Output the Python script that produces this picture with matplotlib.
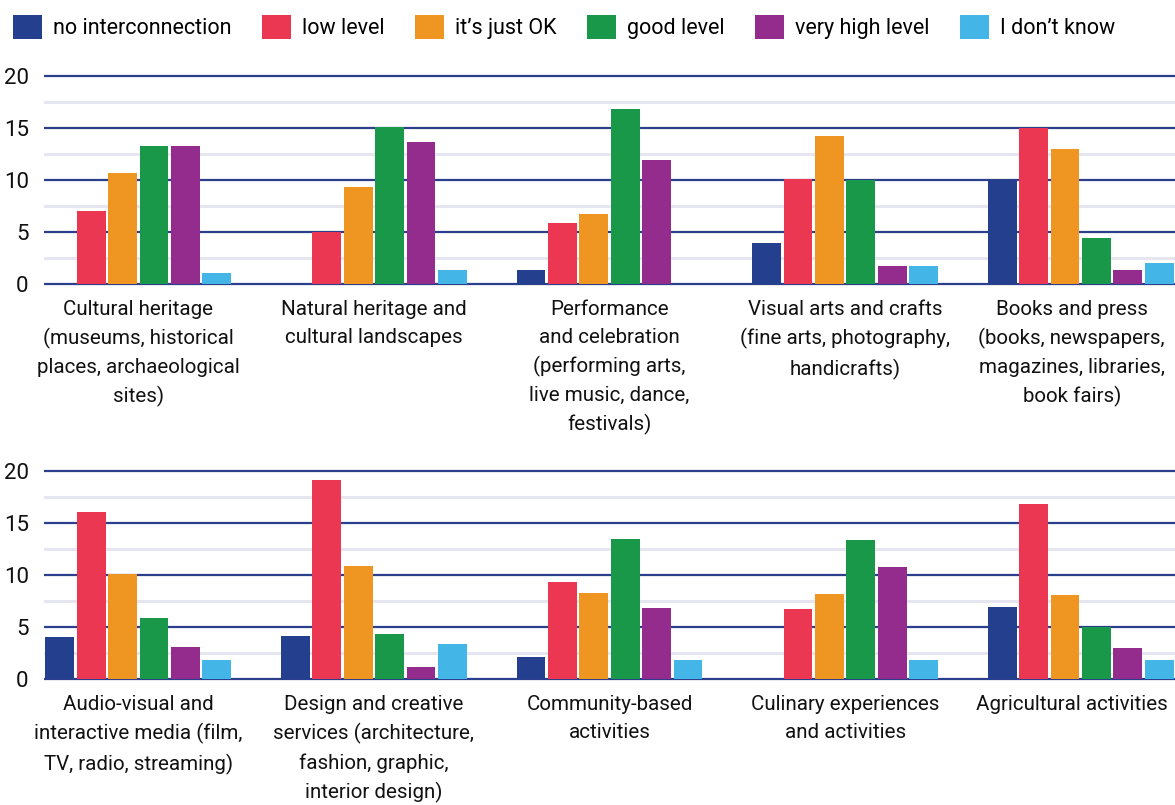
import numpy as np
import matplotlib
matplotlib.use("Agg")
import matplotlib.pyplot as plt
import matplotlib.transforms as mtransforms
from matplotlib.ticker import MultipleLocator
from matplotlib.patches import Patch

plt.rcParams['font.family'] = ['Roboto', 'DejaVu Sans']

# legend / series
levels = ["no interconnection", "low level", "it\u2019s just OK", "good level",
          "very high level", "I don\u2019t know"]
colors = ["#253f8f", "#eb3751", "#ef9521", "#1a984a", "#932c8c", "#44b5e7"]

# top row
top_cats = [
    "Cultural heritage\n(museums, historical\nplaces, archaeological\nsites)",
    "Natural heritage and\ncultural landscapes",
    "Performance\nand celebration\n(performing arts,\nlive music, dance,\nfestivals)",
    "Visual arts and crafts\n(fine arts, photography,\nhandicrafts)",
    "Books and press\n(books, newspapers,\nmagazines, libraries,\nbook fairs)",
]
top_no_interconnection = [0, 0, 1.3, 3.9, 10.0]
top_low = [7.0, 5.0, 5.9, 10.1, 15.0]
top_ok = [10.7, 9.3, 6.7, 14.2, 13.0]
top_good = [13.3, 15.1, 16.8, 10.0, 4.4]
top_very_high = [13.3, 13.7, 11.9, 1.7, 1.3]
top_dont_know = [1.1, 1.3, 0, 1.7, 2.0]

# bottom row
bottom_cats = [
    "Audio-visual and\ninteractive media (film,\nTV, radio, streaming)",
    "Design and creative\nservices (architecture,\nfashion, graphic,\ninterior design)",
    "Community-based\nactivities",
    "Culinary experiences\nand activities",
    "Agricultural activities",
]
bottom_no_interconnection = [4.0, 4.1, 2.1, 0, 6.9]
bottom_low = [16.1, 19.1, 9.3, 6.7, 16.8]
bottom_ok = [10.1, 10.9, 8.3, 8.2, 8.1]
bottom_good = [5.9, 4.3, 13.5, 13.4, 5.0]
bottom_very_high = [3.1, 1.2, 6.8, 10.8, 3.0]
bottom_dont_know = [1.8, 3.4, 1.8, 1.8, 1.8]

top_series = [top_no_interconnection, top_low, top_ok, top_good,
              top_very_high, top_dont_know]
bottom_series = [bottom_no_interconnection, bottom_low, bottom_ok, bottom_good,
                 bottom_very_high, bottom_dont_know]

fig = plt.figure(figsize=(11.75, 8.05), dpi=100)
W, H = 1175, 805


def draw_panel(rect, cats, series):
    ax = fig.add_axes(rect)
    x = np.arange(len(cats))
    slot = 0.8 / len(series)
    for i, (vals, c) in enumerate(zip(series, colors)):
        ax.bar(x - 0.4 + slot * (i + 0.5), vals, width=slot * 0.92,
               color=c, zorder=3)
    ax.set_xlim(-0.4, len(cats) - 0.6)
    ax.set_ylim(-0.2, 20.3)
    ax.yaxis.set_major_locator(MultipleLocator(5))
    ax.yaxis.set_minor_locator(MultipleLocator(2.5))
    ax.grid(which="minor", axis="y", color="#e6e6f0", linewidth=2.2, zorder=0)
    ax.grid(which="major", axis="y", color="#2b3f8c", linewidth=1.6, zorder=1)
    ax.set_axisbelow(True)
    for s in ax.spines.values():
        s.set_visible(False)
    ax.tick_params(which="both", length=0)
    ax.tick_params(axis="y", labelsize=16, pad=11, labelcolor="#111111")
    ax.set_xticks(x)
    labels = ax.set_xticklabels(cats, fontsize=14.8, linespacing=1.57,
                                va="top", color="#111111")
    ax.tick_params(axis="x", pad=10)
    # keep the rightmost label inside the figure
    shift = mtransforms.ScaledTranslation(-9 / 100, 0, fig.dpi_scale_trans)
    labels[-1].set_transform(labels[-1].get_transform() + shift)
    return ax


left = 44 / W
width = 1 - left
draw_panel([left, 1 - 286.1 / H, width, 213.2 / H], top_cats, top_series)
draw_panel([left, 1 - 681.1 / H, width, 213.2 / H], bottom_cats, bottom_series)

handles = [Patch(facecolor=c, edgecolor="none") for c in colors]
fig.legend(handles, levels, loc="upper left", bbox_to_anchor=(0.004, 0.992),
           ncol=6, frameon=False, fontsize=15.5, handlelength=1.35,
           handleheight=1.35, handletextpad=0.5, columnspacing=1.42,
           borderaxespad=0)

fig.savefig("out.png", dpi=100)
